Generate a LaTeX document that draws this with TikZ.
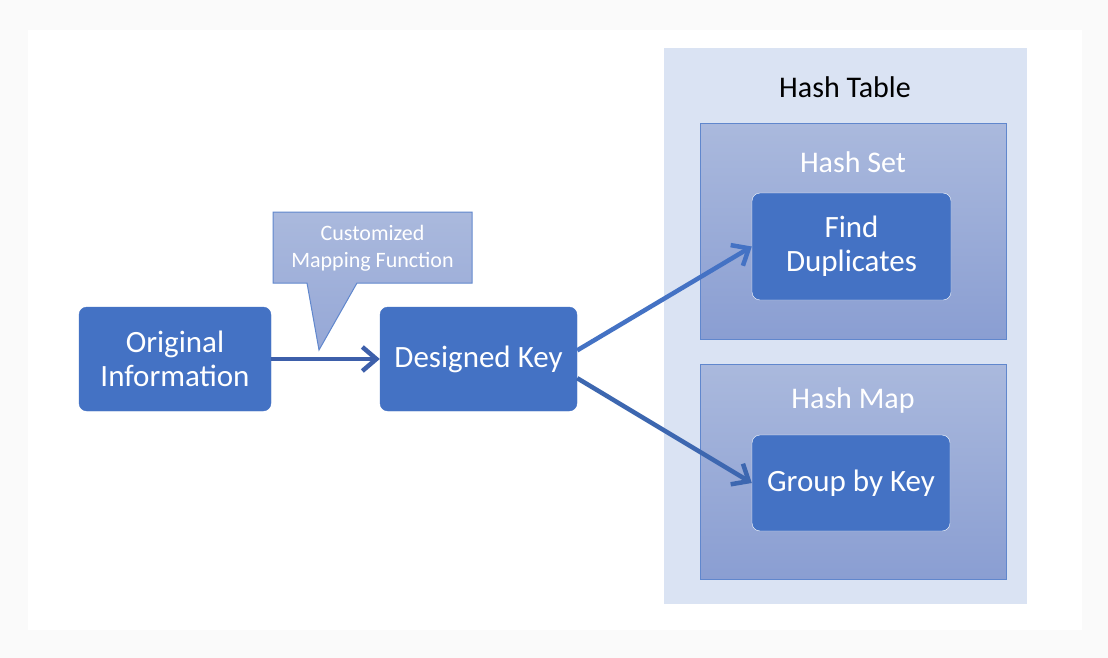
\documentclass[tikz,border=0pt]{standalone}
\usepackage{fontspec}
\setmainfont{Carlito}
\usetikzlibrary{arrows.meta}
\definecolor{boxblue}{HTML}{4472C4}
\definecolor{arrowdark}{HTML}{3D5FAA}
\definecolor{tablebg}{HTML}{DAE3F3}
\definecolor{fadetop}{HTML}{AAB9DD}
\definecolor{fadebottom}{HTML}{8A9ED2}
\definecolor{pagegray}{HTML}{FAFAFA}
\begin{document}
\begin{tikzpicture}[x=1pt,y=-1pt,
	keybox/.style={draw=boxblue, fill=boxblue, rounded corners=8pt, text=white, align=center,
		inner sep=0pt, font=\fontsize{31}{34}\selectfont},
	setbox/.style={draw=boxblue!85, line width=1pt, top color=fadetop, bottom color=fadebottom,
		minimum width=306pt, minimum height=215pt},
	setlabel/.style={text=white, font=\fontsize{30}{34}\selectfont},
	flow/.style={draw=boxblue, line width=4.5pt, -{Straight Barb[length=14pt,width=24pt]}}]
		\useasboundingbox[fill=pagegray] (0,0) rectangle (1108,658);
		\fill[white] (28,30) rectangle (1082,630);
		\node[fill=tablebg, minimum width=363pt, minimum height=556pt] (table) at (845.5,326) {};
		\node[font=\fontsize{30}{34}\selectfont] (tabletitle) at (845,87) {Hash Table};
		\node[setbox] (set) at (853,231.5) {};
		\node[setlabel] (setlabel) at (853,162) {Hash Set};
		\node[setbox] (map) at (853,471.5) {};
		\node[setlabel] (maplabel) at (853,400) {Hash Map};
		\node[keybox, draw=white, minimum width=199pt, minimum height=107pt] (dup) at (851.5,246.5) {Find\\Duplicates};
		\node[keybox, draw=white, minimum width=198pt, minimum height=96pt] (grp) at (851,483) {Group by Key};
		\node[keybox, minimum width=192pt, minimum height=104pt] (orig) at (175,359) {Original\\Information};
		\node[keybox, minimum width=197pt, minimum height=104pt] (key) at (478.5,359) {Designed Key};
		% callout
		\path[draw=boxblue!85, line width=1pt, top color=fadetop, bottom color=fadebottom!90]
			(273,212) -- (472,212) -- (472,283) -- (357,283) -- (319,350) -- (307,283) -- (273,283) -- cycle;
		\node[text=white, align=center, font=\fontsize{22}{27}\selectfont] (mapfn) at (372.5,248) {Customized\\Mapping Function};
		\draw[flow, draw=arrowdark] (orig) -- (key);
		\draw[flow] (key.5) -- (dup.west);
		\draw[flow, draw=boxblue!90!black] (key.-11) -- (grp.west);
	\end{tikzpicture}
\end{document}
